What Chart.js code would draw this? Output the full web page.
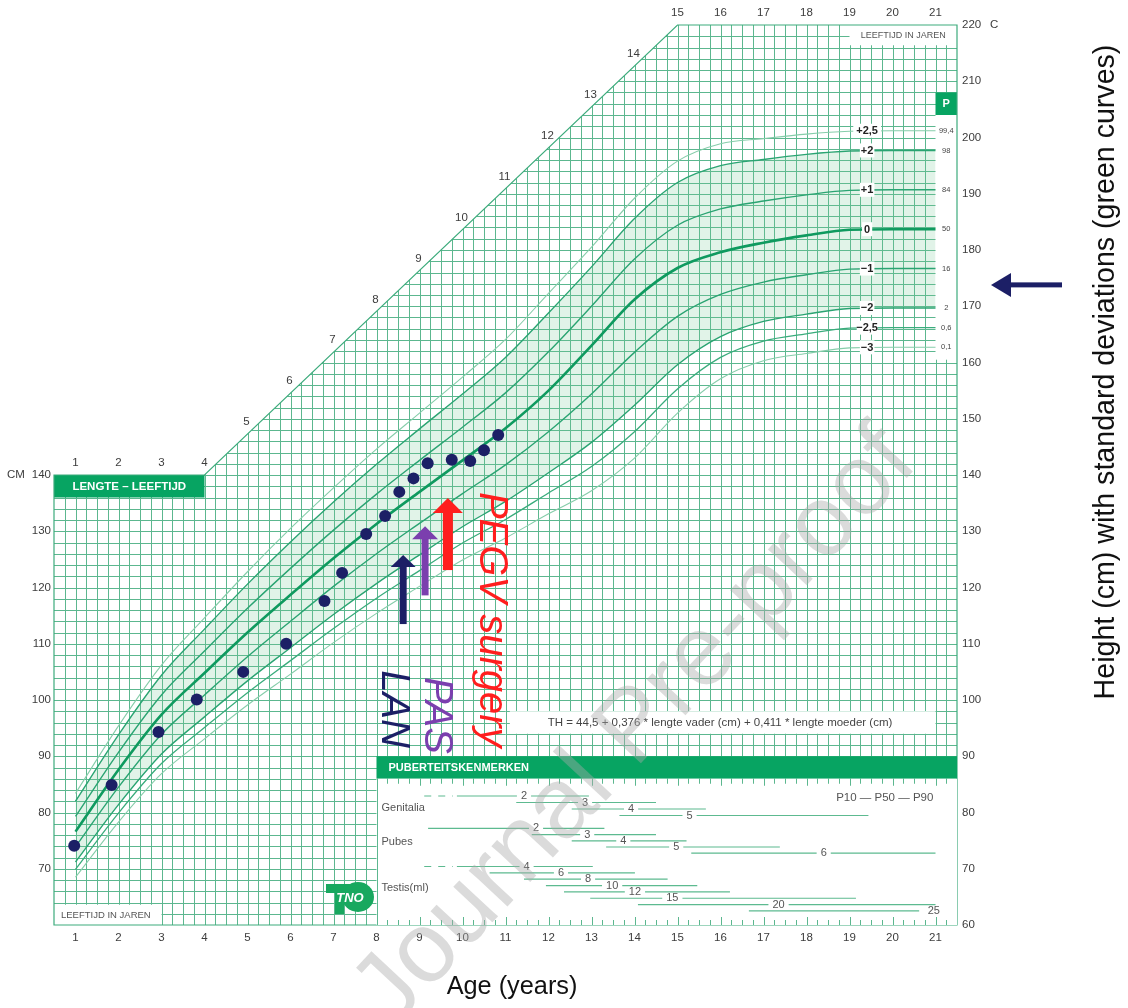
<!DOCTYPE html>
<html>
<head>
<meta charset="utf-8">
<script src="https://cdn.jsdelivr.net/npm/chart.js@4.4.0/dist/chart.umd.min.js"></script>
<style>
  html, body { margin: 0; padding: 0; background: #fff; }
  #wrap { width: 1128px; height: 1008px; }
</style>
</head>
<body>
<div id="wrap"><canvas id="growthChart" width="1128" height="1008"></canvas></div>
<script>
// ========== DATA ==========
const ages = [1, 2, 3, 4, 5, 6, 7, 8, 9, 10, 11, 12, 13, 14, 15, 16, 17, 18, 19, 20, 21];

const sdPlus25 = [83.4, 95.4, 106.2, 114.6, 122.8, 130.5, 137.7, 144.6, 151.0, 157.4, 164.1, 172.3, 180.5, 189.2, 195.8, 198.9, 199.8, 200.6, 201.1, 201.2, 201.2];
const sdPlus2  = [82.0, 93.8, 104.4, 112.6, 120.6, 128.1, 135.2, 141.9, 148.2, 154.4, 160.9, 168.8, 177.0, 185.6, 192.0, 195.0, 196.1, 197.0, 197.6, 197.7, 197.7];
const sdPlus1  = [79.3, 90.7, 100.9, 108.7, 116.3, 123.4, 130.2, 136.6, 142.6, 148.5, 154.6, 161.9, 170.0, 178.4, 184.4, 187.3, 188.7, 189.8, 190.6, 190.7, 190.7];
const sdZero   = [76.6, 87.6, 97.4, 104.8, 112.0, 118.7, 125.2, 131.3, 137.0, 142.6, 148.3, 155.0, 163.0, 171.2, 176.8, 179.6, 181.3, 182.6, 183.6, 183.7, 183.7];
const sdMin1   = [73.9, 84.5, 93.9, 100.9, 107.7, 114.0, 120.2, 126.0, 131.4, 136.7, 141.8, 147.7, 154.4, 161.8, 168.2, 172.1, 174.3, 175.6, 176.6, 176.7, 176.7];
const sdMin2   = [71.2, 81.4, 90.4, 97.0, 103.4, 109.3, 115.2, 120.7, 125.8, 130.8, 135.3, 140.4, 145.8, 152.4, 159.6, 164.6, 167.3, 168.6, 169.6, 169.7, 169.7];
const sdMin25  = [69.9, 79.9, 88.7, 95.1, 101.3, 107.0, 112.7, 118.1, 123.0, 127.9, 132.1, 136.8, 141.5, 147.7, 155.3, 160.9, 163.8, 165.1, 166.1, 166.2, 166.2];
const sdMin3   = [68.5, 78.3, 86.9, 93.1, 99.1, 104.6, 110.2, 115.4, 120.2, 124.9, 128.8, 133.1, 137.2, 143.0, 151.0, 157.1, 160.3, 161.6, 162.6, 162.7, 162.7];

const sdLabels = ['+2,5', '+2', '+1', '0', '\u22121', '\u22122', '\u22122,5', '\u22123'];
const percentileLabels = ['99,4', '98', '84', '50', '16', '2', '0,6', '0,1'];

const patientAge    = [0.97, 1.84, 2.93, 3.82, 4.90, 5.90, 6.79, 7.20, 7.76, 8.20, 8.53, 8.86, 9.19, 9.75, 10.18, 10.50, 10.83];
const patientHeight = [74.1, 84.9, 94.3, 100.1, 105.0, 110.0, 117.6, 122.6, 129.5, 132.7, 137.0, 139.4, 142.1, 142.7, 142.5, 144.4, 147.1];

const eventAge    = [8.62, 9.13, 9.66];
const eventFrom   = [113.5, 118.6, 123.1];
const eventTo     = [125.8, 130.9, 135.9];
const eventLabels = ['LAN', 'PAS', 'PEGV surgery'];
const eventLabelAge = [8.13, 9.13, 10.41];
const eventLabelTop = [105.3, 104.1, 137.0];
const targetHeight = 173.8;

const leftTicks   = [70, 80, 90, 100, 110, 120, 130, 140];
const rightTicks  = [60, 70, 80, 90, 100, 110, 120, 130, 140, 150, 160, 170, 180, 190, 200, 210, 220];
const bottomTicks = [1, 2, 3, 4, 5, 6, 7, 8, 9, 10, 11, 12, 13, 14, 15, 16, 17, 18, 19, 20, 21];
const diagonalTicks = [5, 6, 7, 8, 9, 10, 11, 12, 13, 14];

const genitaliaStage = ['2', '3', '4', '5'];
const genitaliaP10 = [9.87, 11.25, 12.54, 13.65];
const genitaliaP50 = [11.43, 12.85, 13.92, 15.28];
const genitaliaP90 = [12.94, 14.50, 15.66, 19.44];
const pubesStage = ['2', '3', '4', '5', '6'];
const pubesP10 = [9.20, 11.61, 12.54, 13.34, 15.32];
const pubesP50 = [11.71, 12.90, 13.74, 14.97, 18.40];
const pubesP90 = [13.30, 14.50, 15.21, 17.38, 21.0];
const testisStage = ['4', '6', '8', '10', '12', '15', '20', '25'];
const testisP10 = [9.87, 10.63, 11.43, 11.94, 12.36, 12.97, 14.08, 16.66];
const testisP50 = [11.49, 12.29, 12.92, 13.48, 14.01, 14.88, 17.35, 20.96];
const testisP90 = [13.03, 14.01, 14.77, 15.46, 16.22, 19.15, 21.0, 20.62];
// ================================================

const FONT = '"Liberation Sans", Arial, Helvetica, sans-serif';
const GRID = '#5cb78f';
const GREEN = '#07a462';
const TEXT = '#3c3c3c';
const NAVY = '#1c1f66';
const eventColors = [NAVY, '#7b3fae', '#ff1e1e'];
const shaftWidth = [7, 7, 10];
const headWidth = [25, 26, 30];
const headHeight = [12, 13, 15];

function outline(ctx, X, Y) {
    ctx.beginPath();
    ctx.moveTo(X(0.5), Y(60));
    ctx.lineTo(X(0.5), Y(140));
    ctx.lineTo(X(4), Y(140));
    ctx.lineTo(X(15), Y(220));
    ctx.lineTo(X(21.5), Y(220));
    ctx.lineTo(X(21.5), Y(60));
    ctx.closePath();
}

function whiteBox(ctx, X, Y, a0, a1, c0, c1, fill) {
    ctx.fillStyle = fill || '#fff';
    ctx.fillRect(X(a0), Y(c1), X(a1) - X(a0), Y(c0) - Y(c1));
}

function text(ctx, str, x, y, font, color, align, base) {
    ctx.font = font;
    ctx.fillStyle = color;
    ctx.textAlign = align || 'center';
    ctx.textBaseline = base || 'middle';
    ctx.fillText(str, x, y);
}

function drawGrid(ctx, X, Y) {
    ctx.save();
    outline(ctx, X, Y);
    ctx.clip();
    ctx.strokeStyle = GRID;
    ctx.lineWidth = 1;
    ctx.beginPath();
    for (let a = 0.75; a < 21.5; a += 0.25) {
        const x = Math.round(X(a)) + 0.5;
        ctx.moveTo(x, Y(220));
        ctx.lineTo(x, Y(60));
    }
    for (let c = 62; c < 220; c += 2) {
        const y = Math.round(Y(c)) + 0.5;
        ctx.moveTo(X(0.5), y);
        ctx.lineTo(X(21.5), y);
    }
    ctx.stroke();
    ctx.restore();
}

function pubertyRows(ctx, X, Y, stages, p10, p50, p90, y0, step, leadIn) {
    ctx.font = '11px ' + FONT;
    stages.forEach((s, i) => {
        const y = y0 + i * step;
        const w = ctx.measureText(s).width;
        const xl = X(p50[i]);
        ctx.strokeStyle = '#5dba90';
        ctx.lineWidth = 1.2;
        ctx.beginPath();
        ctx.moveTo(X(p10[i]), y);
        ctx.lineTo(Math.min(xl - w / 2 - 4, X(p90[i])), y);
        if (p90[i] > p50[i]) {
            ctx.moveTo(xl + w / 2 + 4, y);
            ctx.lineTo(X(p90[i]), y);
        }
        ctx.stroke();
        if (i === 0 && leadIn) {
            ctx.setLineDash([7, 7]);
            ctx.beginPath();
            ctx.moveTo(X(leadIn), y);
            ctx.lineTo(X(p10[i]) - 4, y);
            ctx.stroke();
            ctx.setLineDash([]);
        }
        text(ctx, s, xl, y, '11px ' + FONT, '#555');
    });
}

function drawPuberty(ctx, X, Y) {
    // green header band and white panel
    whiteBox(ctx, X, Y, 8, 21.5, 86, 90, GREEN);
    whiteBox(ctx, X, Y, 8, 21.5, 60, 86);
    text(ctx, 'PUBERTEITSKENMERKEN', X(8) + 12, (Y(86) + Y(90)) / 2 + 0.5, 'bold 11px ' + FONT, '#fff', 'left');
    // small ticks
    ctx.strokeStyle = GRID;
    ctx.lineWidth = 1;
    ctx.beginPath();
    for (let a = 8.25; a < 21.5; a += 0.25) {
        const x = Math.round(X(a)) + 0.5;
        const big = Math.abs(a - Math.round(a)) < 0.01;
        ctx.moveTo(x, Y(86));
        ctx.lineTo(x, Y(86) + (big ? 7 : 5));
        ctx.moveTo(x, Y(60));
        ctx.lineTo(x, Y(60) - (big ? 8 : 5));
    }
    ctx.moveTo(Math.round(X(8)) + 0.5, Y(86));
    ctx.lineTo(Math.round(X(8)) + 0.5, Y(60));
    ctx.stroke();

    text(ctx, 'Genitalia', X(8) + 5, 808, '11px ' + FONT, '#555', 'left');
    text(ctx, 'Pubes', X(8) + 5, 842, '11px ' + FONT, '#555', 'left');
    text(ctx, 'Testis(ml)', X(8) + 5, 888, '11px ' + FONT, '#555', 'left');
    text(ctx, 'P10 \u2014 P50 \u2014 P90', X(20.95), 798, '11.5px ' + FONT, '#555', 'right');

    pubertyRows(ctx, X, Y, genitaliaStage, genitaliaP10, genitaliaP50, genitaliaP90, 796, 6.5, 9.11);
    pubertyRows(ctx, X, Y, pubesStage, pubesP10, pubesP50, pubesP90, 828.4, 6.2, null);
    pubertyRows(ctx, X, Y, testisStage, testisP10, testisP50, testisP90, 866.5, 6.35, 9.11);
}

function drawFrame(ctx, X, Y) {
    // boxes on the grid
    whiteBox(ctx, X, Y, 11.1, 21.0, 94, 98);
    whiteBox(ctx, X, Y, 0.5, 3.0, 60, 63.6);
    whiteBox(ctx, X, Y, 19.0, 21.5, 216.4, 220);
    whiteBox(ctx, X, Y, 21.0, 21.5, 160.5, 204);
    whiteBox(ctx, X, Y, 21.0, 21.5, 204, 208, GREEN);
    whiteBox(ctx, X, Y, 0.5, 4.0, 136, 140, GREEN);

    ctx.strokeStyle = '#3dab7c';
    ctx.lineWidth = 1.2;
    outline(ctx, X, Y);
    ctx.stroke();

    text(ctx, 'LENGTE \u2013 LEEFTIJD', (X(0.5) + X(4)) / 2, (Y(136) + Y(140)) / 2 + 0.5, 'bold 11.5px ' + FONT, '#fff');
    text(ctx, 'P', (X(21) + X(21.5)) / 2, (Y(204) + Y(208)) / 2 + 0.5, 'bold 11px ' + FONT, '#fff');
    text(ctx, 'LEEFTIJD IN JAREN', X(0.5) + 7, (Y(60) + Y(63.6)) / 2, '9.5px ' + FONT, '#555', 'left');
    text(ctx, 'LEEFTIJD IN JAREN', (X(19.0) + X(21.5)) / 2, (Y(216.4) + Y(220)) / 2, '9px ' + FONT, '#555');
    text(ctx, 'TH = 44,5 + 0,376 * lengte vader (cm) + 0,411 * lengte moeder (cm)', 720, Y(96) + 0.5, '11.5px ' + FONT, '#444');

    // TNO logo
    ctx.fillStyle = '#18a85f';
    ctx.beginPath();
    ctx.ellipse(358, 897, 16, 15, 0, 0, Math.PI * 2);
    ctx.fill();
    ctx.fillRect(326, 884, 30, 9);
    ctx.fillRect(335, 884, 9, 30);
    text(ctx, 'TNO', 350, 898, 'bold italic 13px ' + FONT, '#fff');
}

function drawTicks(ctx, X, Y) {
    const f = '11.5px ' + FONT;
    leftTicks.forEach(v => text(ctx, String(v), 51, Y(v), f, TEXT, 'right'));
    text(ctx, 'CM', 7, Y(140), f, TEXT, 'left');
    rightTicks.forEach(v => text(ctx, String(v), 962, Y(v), f, TEXT, 'left'));
    text(ctx, 'C', 990, Y(220), f, TEXT, 'left');
    bottomTicks.forEach(a => text(ctx, String(a), X(a), 938, f, TEXT));
    bottomTicks.filter(a => a <= 4).forEach(a => text(ctx, String(a), X(a), 463, f, TEXT));
    bottomTicks.filter(a => a >= 15).forEach(a => text(ctx, String(a), X(a), 13, f, TEXT));
    diagonalTicks.forEach(a => {
        const cm = 140 + (a - 4) * 80 / 11;
        text(ctx, String(a), X(a) - 1, Y(cm) - 12, f, TEXT);
    });
}

function drawCurveLabels(ctx, X, Y) {
    const ends = [sdPlus25, sdPlus2, sdPlus1, sdZero, sdMin1, sdMin2, sdMin25, sdMin3].map(s => s[s.length - 1]);
    ctx.font = 'bold 11px ' + FONT;
    ends.forEach((v, i) => {
        const w = ctx.measureText(sdLabels[i]).width + 6;
        const x = X(19.41);
        ctx.fillStyle = '#fff';
        ctx.fillRect(x - w / 2, Y(v) - 7, w, 14);
        text(ctx, sdLabels[i], x, Y(v) + 0.5, 'bold 11px ' + FONT, '#222');
        text(ctx, percentileLabels[i], X(21.25), Y(v), '7.5px ' + FONT, '#444');
    });
}

function drawEvents(ctx, X, Y) {
    eventAge.forEach((a, i) => {
        const x = X(a), yb = Y(eventFrom[i]), yt = Y(eventTo[i]);
        ctx.fillStyle = eventColors[i];
        ctx.fillRect(x - shaftWidth[i] / 2, yt + headHeight[i] - 1, shaftWidth[i], yb - yt - headHeight[i] + 1);
        ctx.beginPath();
        ctx.moveTo(x, yt);
        ctx.lineTo(x + headWidth[i] / 2, yt + headHeight[i]);
        ctx.lineTo(x - headWidth[i] / 2, yt + headHeight[i]);
        ctx.closePath();
        ctx.fill();
    });
    eventLabels.forEach((s, i) => {
        ctx.save();
        ctx.translate(X(eventLabelAge[i]), Y(eventLabelTop[i]));
        ctx.rotate(Math.PI / 2);
        text(ctx, s, 0, 0, 'italic 40px ' + FONT, eventColors[i], 'left', 'alphabetic');
        ctx.restore();
    });
}

function drawOutside(ctx, X, Y) {
    // target height arrow on the right
    const y = Y(targetHeight);
    ctx.fillStyle = NAVY;
    ctx.fillRect(1008, y - 2.5, 54, 5);
    ctx.beginPath();
    ctx.moveTo(991, y);
    ctx.lineTo(1011, y - 12);
    ctx.lineTo(1011, y + 12);
    ctx.closePath();
    ctx.fill();

    // axis titles
    const title = 'Height (cm) with standard deviations (green curves)';
    ctx.font = '20px ' + FONT;
    const size = 20 * 655 / ctx.measureText(title).width;
    ctx.save();
    ctx.translate(1106, 372);
    ctx.rotate(-Math.PI / 2);
    text(ctx, title, 0, 0, size.toFixed(1) + 'px ' + FONT, '#111');
    ctx.restore();

    const xt = 'Age (years)';
    ctx.font = '20px ' + FONT;
    const size2 = 20 * 131 / ctx.measureText(xt).width;
    text(ctx, xt, 512, 987, size2.toFixed(1) + 'px ' + FONT, '#111');

    // watermark
    ctx.save();
    ctx.translate(636, 728);
    ctx.rotate(-47 * Math.PI / 180);
    text(ctx, 'Journal Pre-proof', 0, 0, '100px ' + FONT, 'rgba(170,170,170,0.42)');
    ctx.restore();
}

const decor = {
    id: 'growthDecor',
    beforeDraw(chart) {
        const ctx = chart.ctx;
        const X = v => chart.scales.x.getPixelForValue(v);
        const Y = v => chart.scales.y.getPixelForValue(v);
        ctx.save();
        drawGrid(ctx, X, Y);
        drawFrame(ctx, X, Y);
        drawPuberty(ctx, X, Y);
        drawTicks(ctx, X, Y);
        ctx.restore();
    },
    afterDatasetsDraw(chart) {
        const ctx = chart.ctx;
        const X = v => chart.scales.x.getPixelForValue(v);
        const Y = v => chart.scales.y.getPixelForValue(v);
        ctx.save();
        drawCurveLabels(ctx, X, Y);
        drawEvents(ctx, X, Y);
        ctx.restore();
    },
    afterDraw(chart) {
        const ctx = chart.ctx;
        const X = v => chart.scales.x.getPixelForValue(v);
        const Y = v => chart.scales.y.getPixelForValue(v);
        ctx.save();
        drawOutside(ctx, X, Y);
        ctx.restore();
    }
};

function curve(label, values, color, width, extra) {
    return Object.assign({
        label: label,
        data: ages.map((a, i) => ({ x: a, y: values[i] })),
        borderColor: color,
        borderWidth: width,
        pointRadius: 0,
        fill: false,
        cubicInterpolationMode: 'monotone'
    }, extra || {});
}

const datasets = [
    {
        label: 'Patient',
        data: patientAge.map((a, i) => ({ x: a, y: patientHeight[i] })),
        showLine: false,
        pointRadius: 6,
        pointBackgroundColor: NAVY,
        pointBorderWidth: 0
    },
    curve('+2,5', sdPlus25, '#86cdaa', 1.1),
    curve('+2', sdPlus2, '#2aa472', 1.4, { fill: 6, backgroundColor: 'rgba(120,200,150,0.22)' }),
    curve('+1', sdPlus1, '#2aa472', 1.4),
    curve('0', sdZero, '#0f9a5f', 2.6),
    curve('-1', sdMin1, '#2aa472', 1.4),
    curve('-2', sdMin2, '#2aa472', 1.4),
    curve('-2,5', sdMin25, '#3aac7c', 1.3),
    curve('-3', sdMin3, '#86cdaa', 1.1)
];

new Chart(document.getElementById('growthChart').getContext('2d'), {
    type: 'line',
    data: { datasets: datasets },
    options: {
        responsive: false,
        animation: false,
        layout: { padding: { left: 54, right: 171, top: 25, bottom: 83 } },
        scales: {
            x: { type: 'linear', min: 0.5, max: 21.5, display: false },
            y: { type: 'linear', min: 60, max: 220, display: false }
        },
        plugins: {
            legend: { display: false },
            tooltip: { enabled: false },
            filler: { drawTime: 'beforeDatasetsDraw', propagate: false }
        }
    },
    plugins: [decor]
});
</script>
</body>
</html>
